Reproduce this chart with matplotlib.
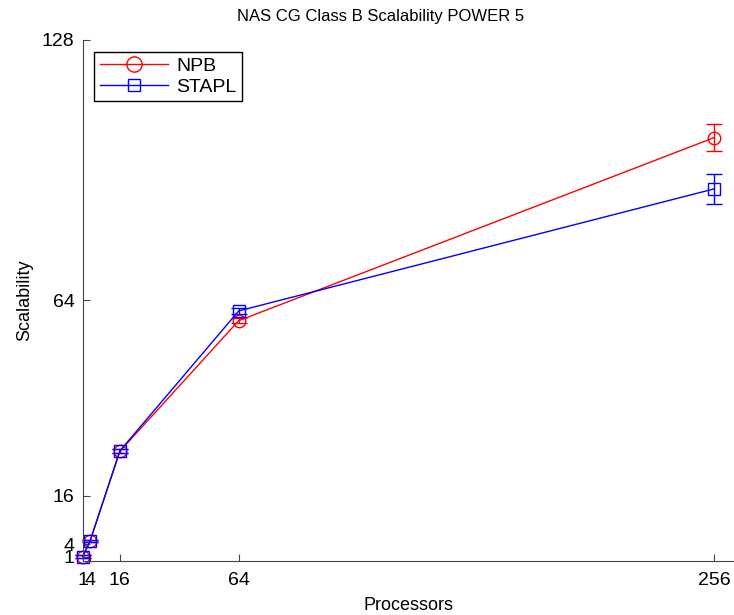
import matplotlib
matplotlib.use("Agg")
import matplotlib.pyplot as plt
from matplotlib.lines import Line2D

plt.rcParams['font.family'] = ['Liberation Sans', 'DejaVu Sans']

# Data
processors = [1, 4, 16, 64, 256]
npb = [1, 4.9, 26.9, 59.0, 104.0]
npb_err = [0.3, 0.3, 0.5, 0.6, 3.4]
stapl = [1, 4.9, 27.0, 61.4, 91.4]
stapl_err = [0.3, 0.3, 0.5, 0.7, 3.7]

xticks = [1, 4, 16, 64, 256]
yticks = [1, 4, 16, 64, 128]

fig = plt.figure(figsize=(7.34, 6.15), dpi=100)
ax = fig.add_axes([0.1127, 0.0883, 0.8873, 0.8467])

for ys, err, col, mk, ms in [(npb, npb_err, 'red', 'o', 9), (stapl, stapl_err, 'blue', 's', 8)]:
    line, caps, bars = ax.errorbar(processors, ys, yerr=err, color=col, marker=mk, markersize=ms,
                                   markerfacecolor='none', linewidth=1, capsize=6)
    line.set_clip_on(False)
    for c in caps:
        c.set_clip_on(False)
    for b in bars:
        b.set_clip_on(False)

ax.set_xlim(1, 264)
ax.set_ylim(0, 128)
ax.set_xticks(xticks)
ax.set_yticks(yticks)
ax.tick_params(labelsize=14, direction='in', length=5, color='#444444')
ax.tick_params(axis='x', pad=8)
ax.tick_params(axis='y', pad=6)
ax.spines['top'].set_visible(False)
ax.spines['right'].set_visible(False)
ax.spines['left'].set_color('#444444')
ax.spines['bottom'].set_color('#444444')

ax.set_title("NAS CG Class B Scalability POWER 5", fontsize=12, pad=14, x=0.457)
ax.set_xlabel("Processors", fontsize=13, labelpad=6)
ax.set_ylabel("Scalability", fontsize=13, labelpad=6)

handles = [
    Line2D([], [], color='red', marker='o', markersize=11, markerfacecolor='none', linewidth=1),
    Line2D([], [], color='blue', marker='s', markersize=9, markerfacecolor='none', linewidth=1),
]
leg = ax.legend(handles, ['NPB', 'STAPL'], loc='upper left', fontsize=14, fancybox=False,
                framealpha=1, edgecolor='black', handlelength=3.5, borderaxespad=0.6,
                labelspacing=0.15, handletextpad=0.4, borderpad=0.3)
leg.get_frame().set_linewidth(1)

fig.savefig("out.png", dpi=100)
